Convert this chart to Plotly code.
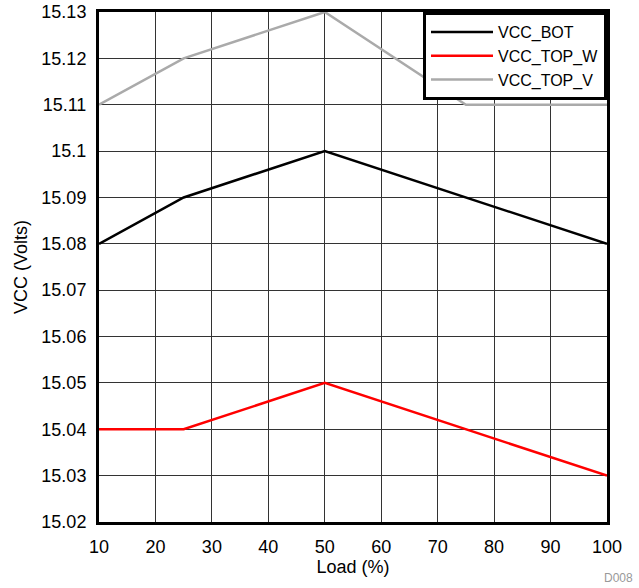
import plotly.graph_objects as go

load = [10, 25, 50, 75, 100]
vcc_bot = [15.08, 15.09, 15.10, 15.09, 15.08]
vcc_top_w = [15.04, 15.04, 15.05, 15.04, 15.03]
vcc_top_v = [15.11, 15.12, 15.13, 15.11, 15.11]

x_ticks = [10, 20, 30, 40, 50, 60, 70, 80, 90, 100]
y_ticks = [15.02, 15.03, 15.04, 15.05, 15.06, 15.07, 15.08, 15.09, 15.10, 15.11, 15.12, 15.13]
y_ticktext = ["15.02", "15.03", "15.04", "15.05", "15.06", "15.07", "15.08", "15.09", "15.1", "15.11", "15.12", "15.13"]

font = "Liberation Sans, Arial, sans-serif"

fig = go.Figure()
fig.add_trace(go.Scatter(x=load, y=vcc_bot, mode="lines", name="VCC_BOT",
                         line=dict(color="#000000", width=2.5)))
fig.add_trace(go.Scatter(x=load, y=vcc_top_w, mode="lines", name="VCC_TOP_W",
                         line=dict(color="#ff0000", width=2.5)))
fig.add_trace(go.Scatter(x=load, y=vcc_top_v, mode="lines", name="VCC_TOP_V",
                         line=dict(color="#aaaaaa", width=2.5)))

fig.update_layout(
    width=639, height=588,
    margin=dict(l=99, r=32, t=12, b=66, autoexpand=False),
    paper_bgcolor="white", plot_bgcolor="white",
    font=dict(family=font, size=18, color="#000000"),
    showlegend=True,
    legend=dict(x=1, y=1, xanchor="right", yanchor="top",
                bgcolor="white", bordercolor="#000000", borderwidth=3,
                font=dict(size=16, family=font), tracegroupgap=0,
                itemwidth=62),
    xaxis=dict(range=[10, 100], tickvals=x_ticks, ticks="", showgrid=True,
               gridcolor="#333333", gridwidth=1, zeroline=False, automargin=False,
               showline=True, linecolor="#000000", linewidth=3, mirror=True,
               ticklabelstandoff=6,
               title=dict(text="Load (%)", standoff=4, font=dict(size=18)),
               tickfont=dict(size=18)),
    yaxis=dict(range=[15.02, 15.13], tickvals=y_ticks, ticktext=y_ticktext, ticks="",
               showgrid=True, gridcolor="#333333", gridwidth=1, zeroline=False,
               automargin=False, ticklabelstandoff=6,
               showline=True, linecolor="#000000", linewidth=3, mirror=True,
               title=dict(text="VCC (Volts)", standoff=10, font=dict(size=18)),
               tickfont=dict(size=18)),
    annotations=[dict(text="D008", x=1, y=0, xref="paper", yref="paper",
                      xanchor="right", yanchor="middle", xshift=28, yshift=-56,
                      showarrow=False, font=dict(size=12, color="#999999", family=font))],
)

fig.write_html("out.html")
